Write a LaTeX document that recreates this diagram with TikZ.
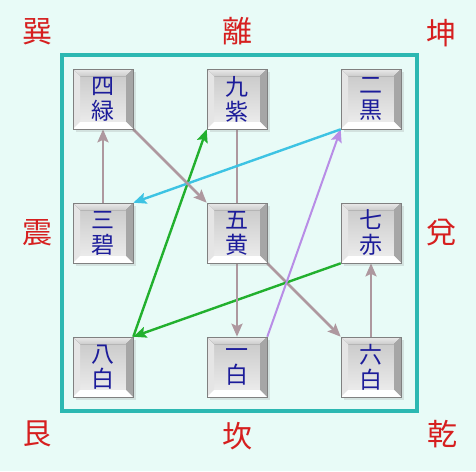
\documentclass[tikz,border=0pt]{standalone}
\usepackage{fontspec}
\newfontfamily\cjk{Noto Sans CJK JP}
\usetikzlibrary{arrows.meta,shadows,positioning}

\definecolor{bgcyan}{HTML}{E8FBF7}
\definecolor{frameteal}{HTML}{2CB8B2}
\definecolor{palacered}{HTML}{D61F1F}
\definecolor{starnavy}{HTML}{1C1C9A}
\definecolor{pathgray}{HTML}{AE989F}
\definecolor{pathgreen}{HTML}{22B02E}
\definecolor{pathviolet}{HTML}{B88DE6}
\definecolor{pathcyan}{HTML}{3DC3E3}

\pgfdeclarelayer{bg}
\pgfdeclarelayer{edges}
\pgfsetlayers{bg,edges,main}

\tikzset{
  palace/.style={text=palacered, font=\cjk\fontsize{30}{31}\selectfont},
  star/.style={minimum size=60pt, inner sep=0pt, align=center, text=starnavy,
    font=\cjk\fontsize{23}{25}\selectfont, draw=black!50, line width=0.6pt,
    top color=black!22, bottom color=black!6,
    drop shadow={shadow xshift=3pt, shadow yshift=-3pt, opacity=0.2},
    path picture={
      \path (path picture bounding box.north west) coordinate (bNW)
            (path picture bounding box.north east) coordinate (bNE)
            (path picture bounding box.south west) coordinate (bSW)
            (path picture bounding box.south east) coordinate (bSE)
            ([xshift=7pt,yshift=-7pt]bNW) coordinate (iNW)
            ([xshift=-7pt,yshift=-7pt]bNE) coordinate (iNE)
            ([xshift=7pt,yshift=7pt]bSW) coordinate (iSW)
            ([xshift=-7pt,yshift=7pt]bSE) coordinate (iSE);
      % bevel bands
      \fill[top color=black!8, bottom color=black!20] (bNW) -- (bNE) -- (iNE) -- (iNW) -- cycle;
      \fill[black!10] (bNW) -- (iNW) -- (iSW) -- (bSW) -- cycle;
      \fill[black!35] (bNE) -- (bSE) -- (iSE) -- (iNE) -- cycle;
      \fill[white] (bSW) -- (iSW) -- (iSE) -- (bSE) -- cycle;
    }},
  flow/.style={->, line width=2.6pt, pathgray},
  >={Stealth[length=13pt,width=11pt,inset=2.5pt]}
}

\begin{document}
\begin{tikzpicture}[x=1pt,y=-1pt,on grid,node distance=134pt]
  \useasboundingbox (0,0) rectangle (476,471);

  % the nine stars
  \node[star] (c5) at (237,233) {五\\黄};
  \node[star] (c9) [above=of c5] {九\\紫};
  \node[star] (c1) [below=of c5] {一\\白};
  \node[star] (c3) [left=of c5]  {三\\碧};
  \node[star] (c7) [right=of c5] {七\\赤};
  \node[star] (c4) [above=of c3] {四\\緑};
  \node[star] (c2) [above=of c7] {二\\黒};
  \node[star] (c8) [below=of c3] {八\\白};
  \node[star] (c6) [below=of c7] {六\\白};

  % the eight palaces
  \node[palace] (xun)  at (37,32)   {巽};
  \node[palace] (li)   at (237,31)  {離};
  \node[palace] (kun)  at (441,33)  {坤};
  \node[palace] (zhen) at (37,233)  {震};
  \node[palace] (dui)  at (441,233) {兌};
  \node[palace] (gen)  at (37,434)  {艮};
  \node[palace] (kan)  at (237,436) {坎};
  \node[palace] (qian) at (442,434) {乾};

  \begin{pgfonlayer}{bg}
    \fill[bgcyan] (0,0) rectangle (476,471);
    \draw[frameteal, line width=4.5pt] (62,55) rectangle (417,411);
  \end{pgfonlayer}

  % flight of the stars
  \begin{pgfonlayer}{edges}
    \draw[flow] (c5.south east) -- (c6.north west);
    \draw[flow] (c6.north) -- (c7.south);
    \draw[flow, pathgreen, line width=2.4pt] (c7.south west) -- (c8.north east);
    \draw[flow, pathgreen, line width=2.4pt] (c8.north east) -- (c9.south west);
    \draw[flow] (c9.south) -- (c1.north);
    \draw[flow, pathviolet, line width=2pt] (c1.north east) -- (c2.south west);
    \draw[flow, pathcyan, line width=2.4pt] (c2.south west) -- (c3.north east);
    \draw[flow] (c3.north) -- (c4.south);
    \draw[flow] (c4.south east) -- (c5.north west);
  \end{pgfonlayer}
\end{tikzpicture}
\end{document}
